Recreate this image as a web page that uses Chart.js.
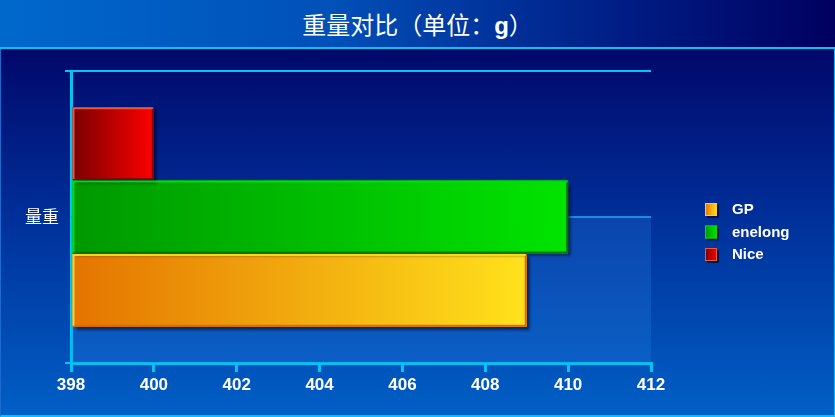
<!DOCTYPE html>
<html>
<head>
<meta charset="utf-8">
<script src="https://cdn.jsdelivr.net/npm/chart.js@4.4.1/dist/chart.umd.min.js"></script>
<style>
  html, body { margin: 0; padding: 0; }
  body {
    width: 835px; height: 417px; overflow: hidden; position: relative;
    background: linear-gradient(to bottom, #00086a 0px, #00086a 50px, #00309a 220px, #0060c6 417px);
  }
  #title {
    position: absolute; left: 0; top: 0; width: 835px; height: 47px;
    background: linear-gradient(to right, #0068cc 0%, #0050b8 40%, #001c84 75%, #000060 100%);
    border-bottom: 2px solid #00c4f4;
    color: #fff; font: 24px "Noto Sans CJK SC", sans-serif;
    text-align: center; line-height: 47px;
  }
  #frame {
    position: absolute; left: 0; top: 49px; width: 833px; height: 366px;
    border-left: 1px solid #1a6ad0; border-right: 1px solid #00b8f0; border-bottom: 2px solid #00c4f4;
  }
  #wrap { position: absolute; left: 0; top: 0; width: 835px; height: 417px; }
</style>
</head>
<body>
<div id="title">重量对比（单位：<b style="font-family:'Liberation Sans',Arial,sans-serif">g</b>）</div>
<div id="frame"></div>
<div id="wrap"><canvas id="chart" width="835" height="417"></canvas></div>
<script>
// data
const categories = ['量重'];
const seriesNames = ['Nice', 'enelong', 'GP'];
const niceValues = [400];
const enelongValues = [410];
const gpValues = [409];
const xTickLabels = [398, 400, 402, 404, 406, 408, 410, 412];

// styles: [dark end, bright end, light edge, dark edge]
const seriesColors = {
  Nice: ['#780000', '#ff0000', '#e85a3c', '#8a0000'],
  enelong: ['#009800', '#00e400', '#00e000', '#007a00'],
  GP: ['#e47400', '#ffe21c', '#ffd420', '#e06a00'],
};
const axisColor = '#00c4f4';

function barGradient(name) {
  return (ctx) => {
    const chart = ctx.chart;
    const c = seriesColors[name];
    if (!chart.chartArea || ctx.raw === undefined) return c[1];
    const xs = chart.scales.x;
    const x0 = xs.getPixelForValue(xTickLabels[0]);
    const x1 = xs.getPixelForValue(ctx.raw);
    const g = chart.ctx.createLinearGradient(x0, 0, x1, 0);
    g.addColorStop(0, c[0]);
    g.addColorStop(1, c[1]);
    return g;
  };
}

// lighter back wall in lower half + shadows under bars
const wallAndShadow = {
  id: 'wallAndShadow',
  beforeDatasetsDraw(chart) {
    const { ctx, chartArea: a } = chart;
    const mid = (a.top + a.bottom) / 2;
    ctx.save();
    ctx.fillStyle = 'rgba(40,140,235,0.24)';
    ctx.fillRect(a.left, mid, a.right - a.left, a.bottom - mid);
    ctx.strokeStyle = 'rgba(30,150,230,0.9)';
    ctx.lineWidth = 2;
    ctx.beginPath();
    ctx.moveTo(a.left, mid);
    ctx.lineTo(a.right, mid);
    ctx.stroke();
    ctx.restore();
    ctx.save();
    ctx.shadowColor = 'rgba(0,0,30,0.6)';
    ctx.shadowOffsetX = 3;
    ctx.shadowOffsetY = 3;
    ctx.shadowBlur = 3;
  },
  afterDatasetsDraw(chart) {
    const ctx = chart.ctx;
    ctx.restore();
    // bevelled edges on each bar
    chart.data.datasets.forEach((ds, i) => {
      const c = seriesColors[ds.label];
      chart.getDatasetMeta(i).data.forEach(bar => {
        const p = bar.getProps(['x', 'y', 'base', 'height'], true);
        const l = Math.min(p.x, p.base) + 1, r = Math.max(p.x, p.base) - 1;
        const t = p.y - p.height / 2 + 1, b = p.y + p.height / 2 - 1;
        ctx.save();
        ctx.lineWidth = 2;
        ctx.strokeStyle = c[3];
        ctx.beginPath();
        ctx.moveTo(r, t); ctx.lineTo(r, b); ctx.lineTo(l, b);
        ctx.stroke();
        ctx.strokeStyle = c[2];
        ctx.beginPath();
        ctx.moveTo(l, b); ctx.lineTo(l, t); ctx.lineTo(r, t);
        ctx.stroke();
        ctx.restore();
      });
    });
  }
};

// legend drawn by hand so it can sit apart from the plot
const sideLegend = {
  id: 'sideLegend',
  afterDraw(chart) {
    const { ctx, chartArea: a } = chart;
    const x = a.right + 54;
    let y = (a.top + a.bottom) / 2 - 8;
    const names = chart.data.datasets.map(d => d.label).reverse();
    ctx.save();
    names.forEach(name => {
      const c = seriesColors[name];
      const g = ctx.createLinearGradient(x, 0, x + 12, 0);
      g.addColorStop(0, c[0]);
      g.addColorStop(1, c[1]);
      ctx.shadowColor = 'rgba(0,0,30,0.6)';
      ctx.shadowOffsetX = 2;
      ctx.shadowOffsetY = 2;
      ctx.fillStyle = g;
      ctx.fillRect(x, y - 6, 12, 13);
      ctx.shadowColor = 'transparent';
      ctx.strokeStyle = c[2];
      ctx.lineWidth = 1;
      ctx.strokeRect(x + 0.5, y - 5.5, 11, 12);
      ctx.fillStyle = '#fff';
      ctx.font = 'bold 15px "Liberation Sans", Arial, sans-serif';
      ctx.textBaseline = 'middle';
      ctx.fillText(name, x + 27, y + 1);
      y += 22.5;
    });
    ctx.restore();
  }
};

const valuesByName = { Nice: niceValues, enelong: enelongValues, GP: gpValues };

new Chart(document.getElementById('chart'), {
  type: 'bar',
  data: {
    labels: categories,
    datasets: seriesNames.map(name => ({
      label: name,
      data: valuesByName[name],
      backgroundColor: barGradient(name),
      borderWidth: 0,
      base: xTickLabels[0],
      categoryPercentage: 0.755,
      barPercentage: 0.99,
    })),
  },
  options: {
    indexAxis: 'y',
    responsive: false,
    animation: false,
    layout: { padding: { left: 0, top: 71, right: 184, bottom: 0 } },
    plugins: {
      legend: { display: false },
      tooltip: { enabled: false },
    },
    scales: {
      x: {
        min: xTickLabels[0],
        max: xTickLabels[xTickLabels.length - 1],
        afterBuildTicks: (s) => { s.ticks = xTickLabels.map(v => ({ value: v })); },
        afterFit: (s) => { s.height = 54; },
        border: { color: axisColor, width: 3 },
        grid: { drawOnChartArea: false, drawTicks: true, tickLength: 9, color: axisColor, lineWidth: 3 },
        ticks: {
          color: '#fff', padding: 3,
          font: { family: '"Liberation Sans", Arial, sans-serif', size: 17, weight: 'bold' },
        },
      },
      y: {
        afterFit: (s) => { s.width = 71; },
        border: { color: axisColor, width: 3 },
        grid: { color: axisColor, lineWidth: 2, tickLength: 6 },
        ticks: {
          color: '#fff', padding: 6,
          font: { family: '"Noto Sans CJK SC", sans-serif', size: 17 },
        },
      },
    },
  },
  plugins: [wallAndShadow, sideLegend],
});
</script>
</body>
</html>
